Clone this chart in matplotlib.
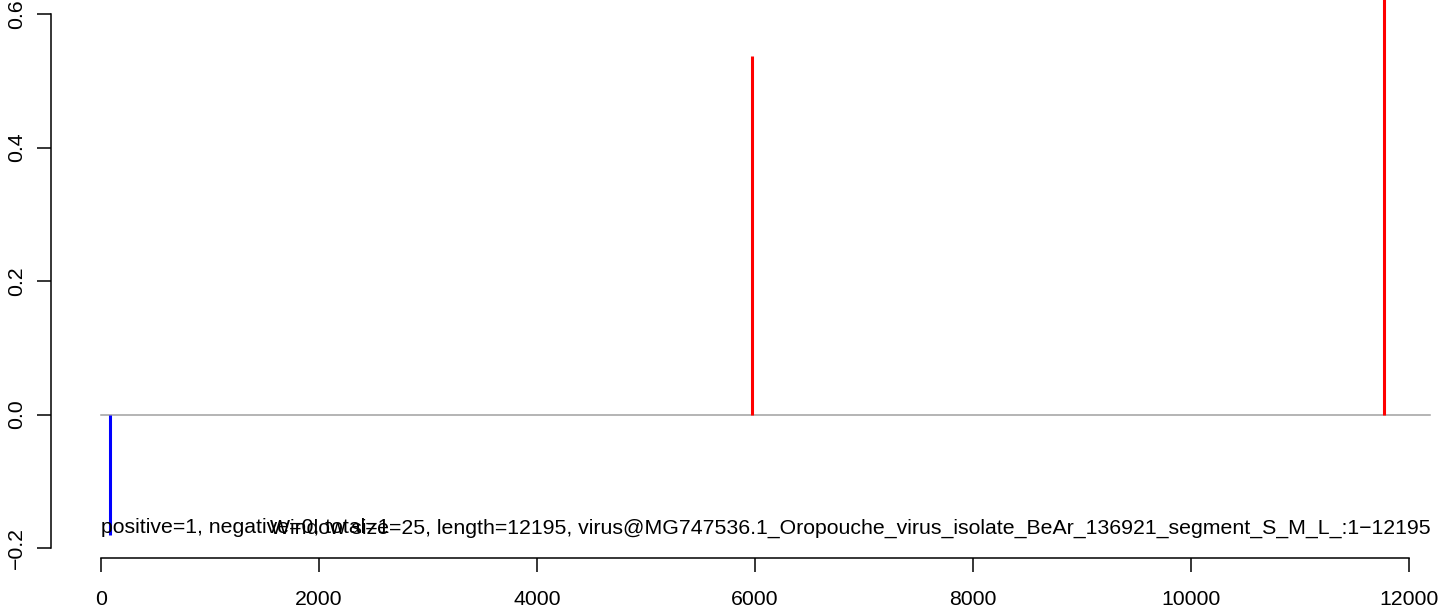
import matplotlib
matplotlib.use("Agg")
import matplotlib.pyplot as plt

# peaks
positions = [83, 5973, 11771]
scores = [-0.18, 0.537, 0.75]
seq_len = 12195
x_ticks = [0, 2000, 4000, 6000, 8000, 10000, 12000]
y_ticks = [-0.2, 0.0, 0.2, 0.4, 0.6]
y_tick_labels = ["\u22120.2", "0.0", "0.2", "0.4", "0.6"]
info_left = "positive=1, negative=0, total=1"
info_right = ("Window size=25, length=12195, "
              "virus@MG747536.1_Oropouche_virus_isolate_BeAr_136921_segment_S_M_L_:1\u221212195")

plt.rcParams["font.family"] = ["Liberation Sans", "DejaVu Sans"]

W, H = 1455, 609
fig = plt.figure(figsize=(W / 100, H / 100), dpi=100)
# plot region in pixels: left 51, bottom 558, up to the top/right edge
ax = fig.add_axes([51 / W, (H - 558) / H, (W - 51) / W, 558 / H])

px_per_x = (1409 - 101) / 12000
px_per_y = (548 - 14) / 0.8
ax.set_xlim((51 - 101) / px_per_x, (W - 101) / px_per_x)
ax.set_ylim(-0.2 - (558 - 548) / px_per_y, 0.6 + 14 / px_per_y)

ax.plot([1, seq_len], [0, 0], color="#a0a0a0", lw=1.1, zorder=1)
for p, s in zip(positions, scores):
    ax.vlines(p, 0, s, color="blue" if s < 0 else "red", lw=2.2, zorder=2)

ax.text(1, -0.17, info_left, ha="left", va="center", fontsize=15.3)
ax.text(seq_len, -0.17, info_right, ha="right", va="center", fontsize=15.3)

for side in ["top", "right"]:
    ax.spines[side].set_visible(False)
ax.spines["bottom"].set_bounds(0, 12000)
ax.spines["left"].set_bounds(-0.2, 0.6)
for side in ["bottom", "left"]:
    ax.spines[side].set_linewidth(1.1)

ax.set_xticks(x_ticks)
ax.set_xticklabels([str(t) for t in x_ticks])
ax.set_yticks(y_ticks)
ax.set_yticklabels(y_tick_labels, rotation=90, va="center")
ax.tick_params(length=10, width=1.1, labelsize=15.3)
ax.tick_params(axis="x", pad=13)
ax.tick_params(axis="y", pad=8)

fig.savefig("out.png", dpi=100)
